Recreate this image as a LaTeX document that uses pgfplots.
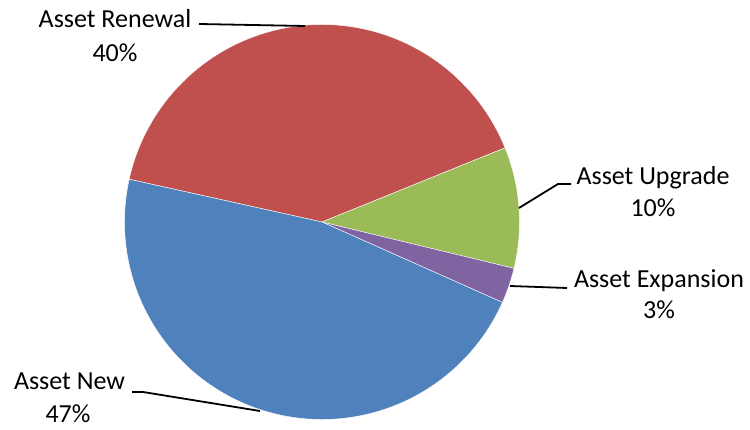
\documentclass[border=0pt]{standalone}
\usepackage{pgfplots}
\pgfplotsset{compat=1.18}
\usepackage{fontspec}
\setmainfont{Carlito}
\definecolor{cBlue}{HTML}{4F81BD}
\definecolor{cRed}{HTML}{C0504D}
\definecolor{cGreen}{HTML}{9BBB59}
\definecolor{cPurple}{HTML}{8064A2}
\begin{document}
\fontsize{26}{33}\selectfont
\begin{tikzpicture}
% shares (percent)
\pgfmathsetmacro{\vRen}{40.4}
\pgfmathsetmacro{\vUpg}{9.9}
\pgfmathsetmacro{\vExp}{2.9}
\pgfmathsetmacro{\vNew}{46.8}
\pgfmathsetmacro{\aS}{167.5}
\pgfmathsetmacro{\aA}{\aS-3.6*\vRen}
\pgfmathsetmacro{\aB}{\aA-3.6*\vUpg}
\pgfmathsetmacro{\aC}{\aB-3.6*\vExp}
\pgfmathsetmacro{\aD}{\aC-3.6*\vNew}
\begin{axis}[scale only axis, width=750pt, height=430pt,
  xmin=0, xmax=750, ymin=0, ymax=430, hide axis, clip=false]
\path (rel axis cs:0,0) rectangle (rel axis cs:1,1);
\addplot[fill=cRed, draw=white, line width=0.4pt, domain=\aA:\aS, samples=90]
  ({322+197.5*cos(x)},{208+197.5*sin(x)}) -- (axis cs:322,208) -- cycle;
\addplot[fill=cGreen, draw=white, line width=0.4pt, domain=\aB:\aA, samples=40]
  ({322+197.5*cos(x)},{208+197.5*sin(x)}) -- (axis cs:322,208) -- cycle;
\addplot[fill=cPurple, draw=white, line width=0.4pt, domain=\aC:\aB, samples=20]
  ({322+197.5*cos(x)},{208+197.5*sin(x)}) -- (axis cs:322,208) -- cycle;
\addplot[fill=cBlue, draw=white, line width=0.4pt, domain=\aD:\aC, samples=100]
  ({322+197.5*cos(x)},{208+197.5*sin(x)}) -- (axis cs:322,208) -- cycle;
% leader lines
\draw[black, line width=1.8pt] (axis cs:199,406) -- (axis cs:305,404);
\draw[black, line width=1.8pt] (axis cs:571,246) -- (axis cs:558,246) -- (axis cs:519,222);
\draw[black, line width=1.8pt] (axis cs:567,142) -- (axis cs:510,144);
\draw[black, line width=1.8pt] (axis cs:132,38) -- (axis cs:143,38) -- (axis cs:260,19);
% labels
\node[anchor=base, inner sep=0pt] at (axis cs:115,402.3) {Asset Renewal};
\node[anchor=base, inner sep=0pt] at (axis cs:115,368.3) {40\%};
\node[anchor=base, inner sep=0pt] at (axis cs:653,245) {Asset Upgrade};
\node[anchor=base, inner sep=0pt] at (axis cs:653,213) {10\%};
\node[anchor=base, inner sep=0pt] at (axis cs:659,142) {Asset Expansion};
\node[anchor=base, inner sep=0pt] at (axis cs:659,111) {3\%};
\node[anchor=base, inner sep=0pt] at (axis cs:69.5,40) {Asset New};
\node[anchor=base, inner sep=0pt] at (axis cs:68,7) {47\%};
\end{axis}
\end{tikzpicture}
\end{document}
